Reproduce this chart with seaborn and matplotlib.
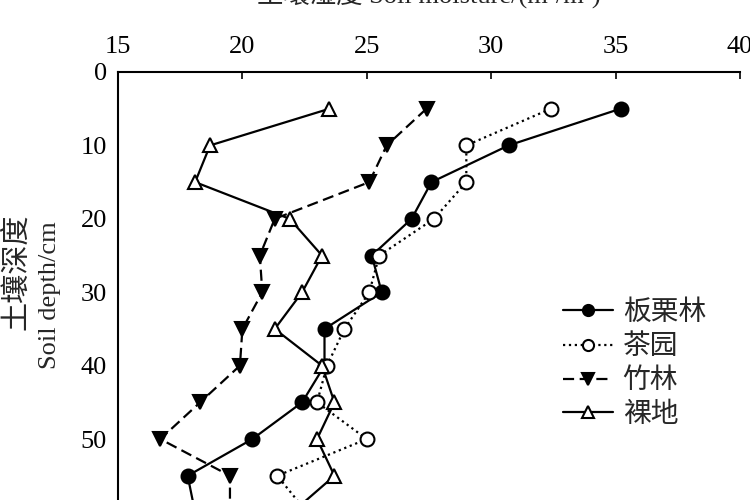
import matplotlib
matplotlib.use("Agg")
import matplotlib.pyplot as plt
import seaborn as sns
import pandas as pd

sns.set_style("white")
plt.rcParams['font.family'] = ['Liberation Serif', 'Noto Sans CJK SC']
plt.rcParams['axes.unicode_minus'] = False

depth = [5, 10, 15, 20, 25, 30, 35, 40, 45, 50, 55, 60]
banlilin = [35.2, 30.7, 27.6, 26.8, 25.2, 25.6, 23.3, 23.3, 22.4, 20.4, 17.8, 18.1]
chayuan = [32.4, 29.0, 29.0, 27.7, 25.5, 25.1, 24.1, 23.4, 23.0, 25.0, 21.4, 22.6]
zhulin = [27.4, 25.8, 25.1, 21.3, 20.7, 20.8, 20.0, 19.9, 18.3, 16.7, 19.5, 19.5]
luodi = [23.5, 18.7, 18.1, 21.9, 23.2, 22.4, 21.3, 23.2, 23.7, 23.0, 23.7, 22.0]

names = ['板栗林', '茶园', '竹林', '裸地']
series = [banlilin, chayuan, zhulin, luodi]
styles = [
    dict(marker='o', mfc='black', ls='-', ms=10),
    dict(marker='o', mfc='white', ls=':', ms=10),
    dict(marker='v', mfc='black', ls=(0, (5, 2.5)), ms=10),
    dict(marker='^', mfc='white', ls='-', ms=10),
]

fig = plt.figure(figsize=(7.5, 5), dpi=100)
ax = fig.add_axes([118 / 750, 0, (740 - 118) / 750, 1 - 72 / 500])

for name, vals, st in zip(names, series, styles):
    df = pd.DataFrame({'moisture': vals, 'depth': depth})
    sns.lineplot(data=df, x='moisture', y='depth', ax=ax, sort=False, estimator=None,
                 color='black', lw=1.6, mec='black', mew=1.5, label=name, **st)

ax.set_xlim(15, 40)
ax.set_ylim(58.3, 0)
ax.set_xticks([15, 20, 25, 30, 35, 40])
ax.set_yticks([0, 10, 20, 30, 40, 50])
ax.xaxis.tick_top()
ax.tick_params(axis='both', direction='in', length=5, width=1.2, labelsize=19, colors='black')
ax.tick_params(axis='x', pad=10)
ax.tick_params(axis='y', pad=8)
ax.set_xlabel('')
ax.set_ylabel('')
for side in ['right', 'bottom']:
    ax.spines[side].set_visible(False)
for side in ['top', 'left']:
    ax.spines[side].set_linewidth(1.5)
    ax.spines[side].set_color('black')

fig.text(429 / 750, 1 - 9 / 500, '土壤湿度 Soil moisture/(m³/m³)', ha='center', va='bottom',
         fontsize=19)
fig.text(17 / 750, 1 - 272 / 500, '土壤深度', rotation=90, ha='center', va='center', fontsize=21)
fig.text(50 / 750, 1 - 295 / 500, 'Soil depth/cm', rotation=90, ha='center', va='center', fontsize=19)

leg = ax.legend(loc='upper left', bbox_to_anchor=(0.715, 0.466), frameon=False, fontsize=20,
                handlelength=1.8, handletextpad=0.36, labelspacing=0.3, borderaxespad=0,
                borderpad=0)
for h in leg.legend_handles:
    h.set_markersize(8)

fig.savefig('out.png', dpi=100)
